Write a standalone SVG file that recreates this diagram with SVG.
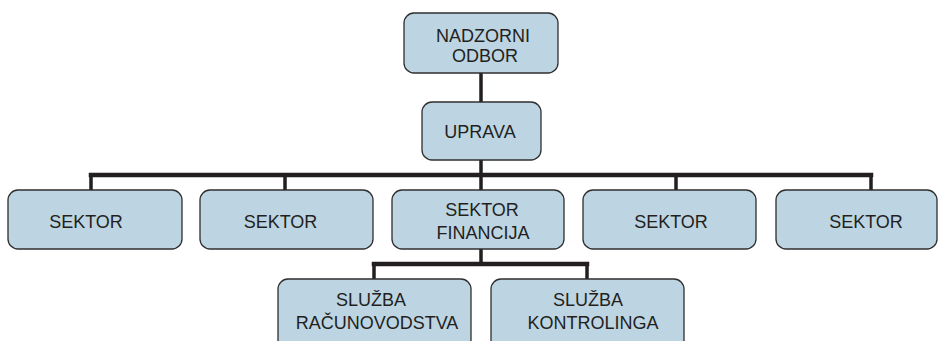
<svg xmlns="http://www.w3.org/2000/svg" width="938" height="341" viewBox="0 0 938 341">
<style>
.box{fill:#bdd5e3;stroke:#2f2f2f;stroke-width:1.3}
.t{font-family:"Liberation Sans",Arial,sans-serif;font-size:18px;fill:#231f20;text-anchor:middle}
.bar{stroke:#231f20;stroke-width:4.5;fill:none;stroke-linecap:square}
.drop{stroke:#231f20;stroke-width:3.5;fill:none}
</style>
<rect width="938" height="341" fill="#ffffff"/>
<g id="connectors">
<line class="drop" x1="481" y1="73" x2="481" y2="102"/>
<line class="drop" x1="481" y1="160" x2="481" y2="190"/>
<line class="bar" x1="91" y1="175" x2="871" y2="175"/>
<line class="drop" x1="91" y1="175" x2="91" y2="190"/>
<line class="drop" x1="285" y1="175" x2="285" y2="190"/>
<line class="drop" x1="676" y1="175" x2="676" y2="190"/>
<line class="drop" x1="871" y1="175" x2="871" y2="190"/>
<line class="drop" x1="481" y1="249" x2="481" y2="264"/>
<line class="bar" x1="374" y1="264" x2="587" y2="264"/>
<line class="drop" x1="374" y1="264" x2="374" y2="279"/>
<line class="drop" x1="587" y1="264" x2="587" y2="279"/>
</g>
<g id="nadzorni">
<rect class="box" x="404" y="13" width="154" height="60" rx="10"/>
<text class="t" x="483" y="42">NADZORNI</text>
<text class="t" x="485" y="61.5">ODBOR</text>
</g>
<g id="uprava">
<rect class="box" x="422" y="102" width="119" height="58" rx="10"/>
<text class="t" x="480" y="138">UPRAVA</text>
</g>
<g id="sektor1">
<rect class="box" x="8" y="190" width="174" height="59" rx="10"/>
<text class="t" x="86" y="228">SEKTOR</text>
</g>
<g id="sektor2">
<rect class="box" x="200" y="190" width="173" height="59" rx="10"/>
<text class="t" x="280.5" y="228">SEKTOR</text>
</g>
<g id="sektor-financija">
<rect class="box" x="392" y="190" width="172" height="59" rx="10"/>
<text class="t" x="482" y="216">SEKTOR</text>
<text class="t" x="483" y="239">FINANCIJA</text>
</g>
<g id="sektor4">
<rect class="box" x="583" y="190" width="173" height="59" rx="10"/>
<text class="t" x="671" y="228">SEKTOR</text>
</g>
<g id="sektor5">
<rect class="box" x="776" y="190" width="161" height="59" rx="10"/>
<text class="t" x="866" y="228">SEKTOR</text>
</g>
<g id="sluzba-racunovodstva">
<rect class="box" x="278" y="279" width="193" height="72" rx="10"/>
<text class="t" x="371" y="306">SLUŽBA</text>
<text class="t" x="377" y="329">RAČUNOVODSTVA</text>
</g>
<g id="sluzba-kontrolinga">
<rect class="box" x="491" y="279" width="193" height="72" rx="10"/>
<text class="t" x="588" y="306">SLUŽBA</text>
<text class="t" x="593" y="329">KONTROLINGA</text>
</g>
</svg>
